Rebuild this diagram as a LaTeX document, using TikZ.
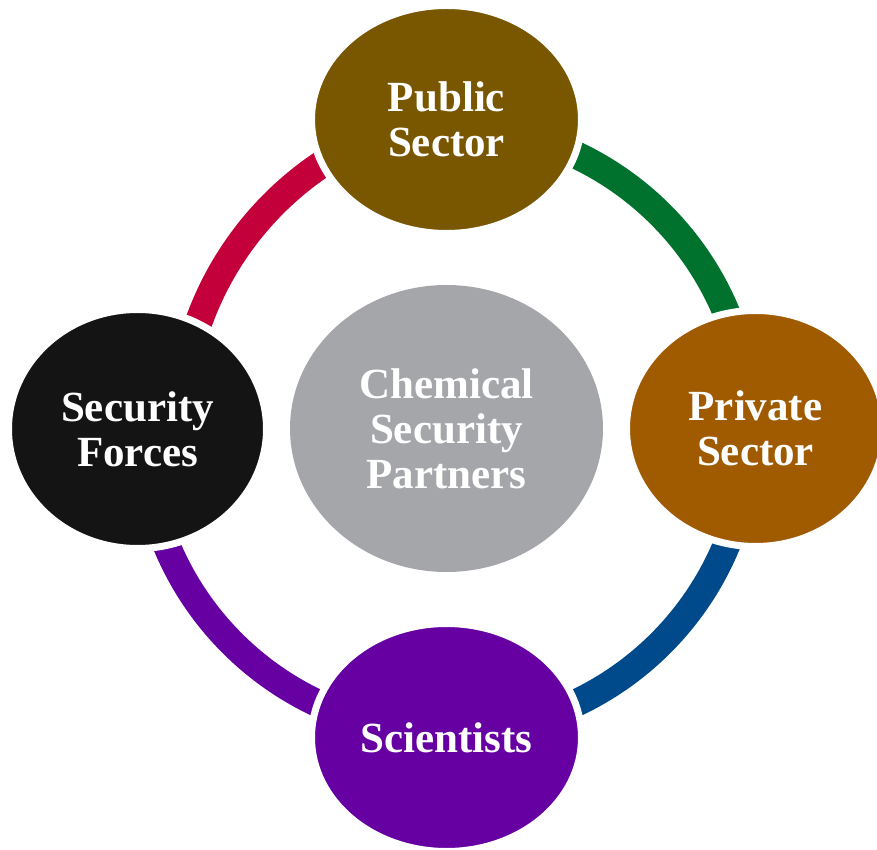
\documentclass[tikz,border=0pt]{standalone}
\usepackage{fontspec}
\setmainfont{Liberation Serif}
\usetikzlibrary{shapes.geometric}

\definecolor{pubbrown}{RGB}{120,87,0}
\definecolor{privbrown}{RGB}{160,90,0}
\definecolor{forceblack}{RGB}{20,20,20}
\definecolor{sciviolet}{RGB}{102,0,163}
\definecolor{coregray}{RGB}{165,166,170}
\definecolor{linkred}{RGB}{196,0,58}
\definecolor{linkgreen}{RGB}{0,114,46}
\definecolor{linkblue}{RGB}{0,74,140}

\begin{document}
\begin{tikzpicture}[
    x=1pt, y=1pt,
    font=\fontsize{43}{45}\selectfont\bfseries,
    party/.style={
      ellipse, draw=white, line width=7pt,
      text=white, align=center, inner sep=0pt
    },
    link/.style={line width=27.5pt}
]
\useasboundingbox (0,0) rectangle (877,849);

% --- Ring centres ---
\coordinate (ring) at (446.5,420);
\coordinate (ringred) at (500,419);

% --- Arcs ---
\draw[link, linkgreen] ([shift={(0:303)}]ring) arc[start angle=0, end angle=90, radius=303];
\draw[link, linkblue] ([shift={(270:303)}]ring) arc[start angle=270, end angle=360, radius=303];
\draw[link, sciviolet] ([shift={(180:303)}]ring) arc[start angle=180, end angle=270, radius=303];
\draw[link, linkred] ([shift={(95:320)}]ringred) arc[start angle=95, end angle=180, radius=320];

% --- Partners ---
\node[party, fill=pubbrown, minimum width=270pt, minimum height=228pt] (public) at (446.5,729.5) {Public\\Sector};
\node[party, fill=privbrown, minimum width=258pt, minimum height=236pt] (private) at (755.5,420.5) {Private\\Sector};
\node[party, fill=sciviolet, minimum width=270pt, minimum height=228pt] (scientists) at (446.5,111.5) {Scientists};
\node[party, fill=forceblack, minimum width=258pt, minimum height=239pt] (forces) at (137.5,420) {Security\\Forces};

% --- Centre ---
\node[ellipse, fill=coregray, text=white, align=center, inner sep=0pt,
      minimum width=313pt, minimum height=287pt] (core) at (446.5,420.5) {Chemical\\Security\\Partners};

\end{tikzpicture}
\end{document}
